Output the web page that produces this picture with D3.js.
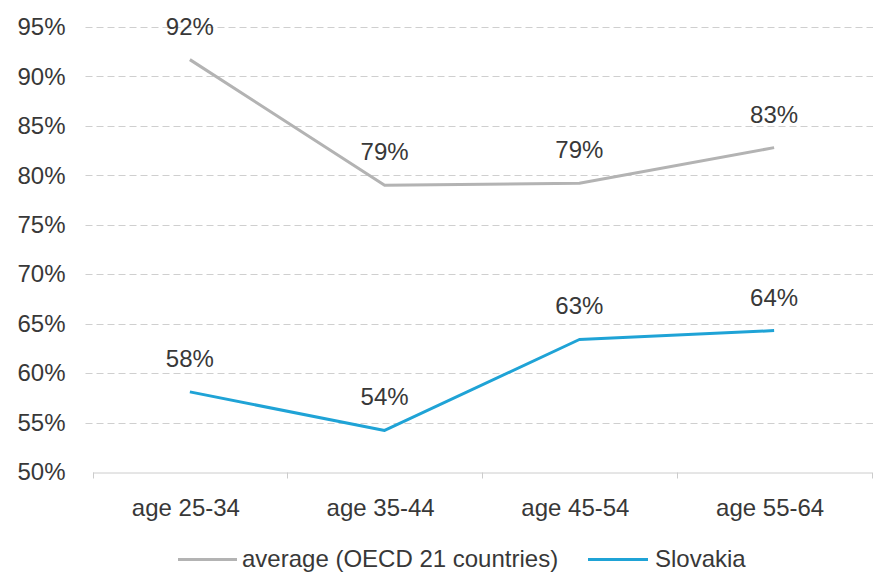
<!DOCTYPE html>
<html>
<head>
<meta charset="utf-8">
<script src="https://cdn.jsdelivr.net/npm/d3@7"></script>
<style>
  html, body { margin: 0; padding: 0; background: #fff; }
  svg { display: block; font-family: "Liberation Sans", Arial, sans-serif; }
</style>
</head>
<body>
<svg id="chart" width="876" height="574"></svg>
<script>
// Age groups on the x axis
const categories = ["age 25-34", "age 35-44", "age 45-54", "age 55-64"];
// Share per age group, in percent
const oecdAverage = [91.7, 79.0, 79.2, 82.8];
const slovakia = [58.1, 54.2, 63.4, 64.3];
// Value labels shown above the points
const oecdLabels = ["92%", "79%", "79%", "83%"];
const slovakiaLabels = ["58%", "54%", "63%", "64%"];
// Y axis ticks
const yTicks = [50, 55, 60, 65, 70, 75, 80, 85, 90, 95];
const seriesNames = ["average (OECD 21 countries)", "Slovakia"];

const series = [
  { name: seriesNames[0], values: oecdAverage, labels: oecdLabels, color: "#b3b3b3" },
  { name: seriesNames[1], values: slovakia, labels: slovakiaLabels, color: "#1fa3d6" }
];

const svg = d3.select("#chart");
const margin = { left: 92.5, right: 4.5, top: 27, bottom: 102 };
const W = 876, H = 574;
const fontSize = 24;
const textColor = "#383838";

const x = d3.scaleBand().domain(categories).range([margin.left, W - margin.right]);
const y = d3.scaleLinear().domain([50, 95]).range([H - margin.bottom, margin.top]);

// Dashed horizontal gridlines
svg.append("g")
  .selectAll("line")
  .data(yTicks.filter(t => t > 50))
  .join("line")
  .attr("x1", margin.left - 7)
  .attr("x2", W - 3)
  .attr("y1", d => Math.round(y(d)) + 0.5)
  .attr("y2", d => Math.round(y(d)) + 0.5)
  .attr("stroke", "#cfcfcf")
  .attr("stroke-width", 1)
  .attr("stroke-dasharray", "7,4");

// Y axis labels
const yAxis = d3.axisLeft(y).tickValues(yTicks).tickFormat(d => d + "%").tickSize(0).tickPadding(27);
const yg = svg.append("g").attr("transform", `translate(${margin.left},0)`).call(yAxis);
yg.select(".domain").remove();
yg.selectAll("text")
  .attr("font-size", fontSize)
  .attr("font-family", "Liberation Sans, Arial, sans-serif")
  .attr("fill", textColor);

// X axis with tick marks at band edges
const xAxis = d3.axisBottom(x).tickSize(0).tickPadding(0);
const xg = svg.append("g").attr("transform", `translate(0,${Math.round(y(50)) + 0.5})`).call(xAxis);
xg.select(".domain").attr("stroke", "#cccccc").attr("stroke-width", 1);
xg.selectAll("text")
  .attr("font-size", fontSize)
  .attr("font-family", "Liberation Sans, Arial, sans-serif")
  .attr("fill", textColor)
  .attr("dy", "0")
  .attr("dx", -4)
  .attr("y", 43);
const edges = categories.map(c => x(c)).concat([x(categories[categories.length - 1]) + x.bandwidth()]);
xg.append("g")
  .selectAll("line")
  .data(edges)
  .join("line")
  .attr("x1", d => Math.round(d) + 0.5)
  .attr("x2", d => Math.round(d) + 0.5)
  .attr("y1", 0)
  .attr("y2", 6)
  .attr("stroke", "#cccccc");

const cx = c => x(c) + x.bandwidth() / 2;
const line = d3.line().x((d, i) => cx(categories[i])).y(d => y(d));

// Series lines with value labels
series.forEach(s => {
  svg.append("path")
    .datum(s.values)
    .attr("d", line)
    .attr("fill", "none")
    .attr("stroke", s.color)
    .attr("stroke-width", 3)
    .attr("stroke-linejoin", "round");

  svg.append("g")
    .selectAll("text")
    .data(s.values)
    .join("text")
    .attr("x", (d, i) => cx(categories[i]))
    .attr("y", d => y(d) - 25)
    .attr("text-anchor", "middle")
    .attr("font-size", fontSize)
    .attr("fill", textColor)
    .text((d, i) => s.labels[i]);
});

// Legend
const legendPos = [{ x1: 178, x2: 237, tx: 242 }, { x1: 588, x2: 648, tx: 655 }];
const lg = svg.append("g");
series.forEach((s, i) => {
  const p = legendPos[i];
  lg.append("line")
    .attr("x1", p.x1).attr("x2", p.x2)
    .attr("y1", 559.5).attr("y2", 559.5)
    .attr("stroke", s.color).attr("stroke-width", 3);
  lg.append("text")
    .attr("x", p.tx).attr("y", 567)
    .attr("font-size", fontSize)
    .attr("fill", textColor)
    .text(s.name);
});
</script>
</body>
</html>
